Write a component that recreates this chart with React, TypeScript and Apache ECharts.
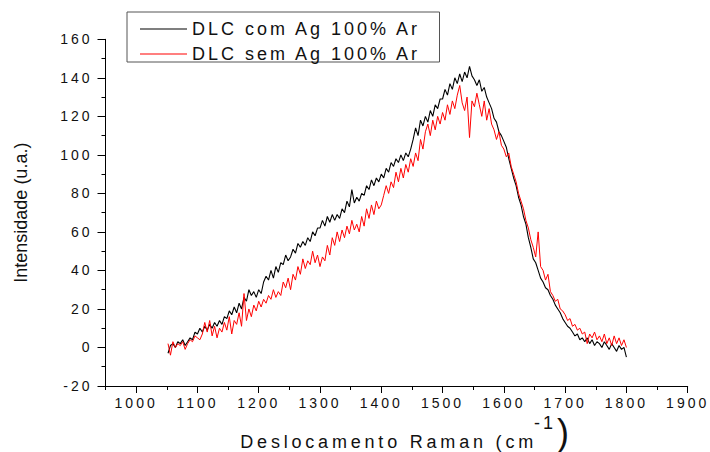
import React, { useEffect, useRef } from 'react';
import * as echarts from 'echarts';

const FONT = "'Liberation Sans', Arial, Helvetica, sans-serif";

// Raman shift sampling: start and step (cm-1)
const xStart = 1052;
const xStep = 4;

const seriesNames = ['DLC com Ag 100% Ar', 'DLC sem Ag 100% Ar'];

// DLC com Ag 100% Ar (black)
const comAg: number[] = [
  -3, 1, 2, 0, 3, 2, 4, 1, 3, 5,
  4, 8, 7, 10, 8, 11, 9, 12, 10, 13,
  11, 14, 12, 16, 15, 19, 17, 21, 18, 23,
  20, 26, 24, 30, 27, 29, 26, 30, 28, 34,
  37, 35, 40, 36, 42, 39, 44, 43, 48, 45,
  47, 51, 49, 54, 52, 55, 53, 57, 55, 60,
  58, 62, 62, 66, 63, 68, 65, 69, 66, 69,
  67, 72, 70, 76, 73, 82, 75, 78, 76, 80,
  79, 84, 82, 87, 84, 88, 86, 90, 88, 93,
  91, 96, 94, 98, 96, 100, 97, 101, 99, 103,
  108, 114, 110, 118, 115, 120, 117, 123, 120, 126,
  124, 129, 129, 134, 131, 137, 134, 140, 137, 142,
  138, 143, 140, 146, 141, 139, 136, 139, 133, 135,
  130, 127, 124, 119, 117, 112, 110, 107, 104, 98,
  93, 88, 84, 78, 74, 68, 64, 57, 52, 46,
  44, 40, 36, 34, 31, 30, 27, 25, 22, 20,
  18, 15, 13, 11, 10, 8, 6, 7, 4, 5,
  3, 5, 2, 4, 1, 3, 2, 0, 3, 1,
  -1, 2, 0, -2, 1, -1, 0, -5,
];

// DLC sem Ag 100% Ar (red)
const semAg: number[] = [
  2, -4, 3, 0, 2, 1, 3, -1, 2, 4,
  3, 6, 5, 4, 7, 13, 8, 14, 6, 11,
  5, 10, 8, 13, 9, 16, 7, 14, 12, 18,
  11, 28, 14, 20, 16, 22, 19, 24, 21, 25,
  23, 27, 25, 30, 26, 29, 27, 34, 31, 36,
  30, 38, 35, 42, 38, 46, 41, 45, 43, 50,
  44, 48, 42, 47, 45, 53, 48, 57, 53, 60,
  55, 61, 57, 63, 59, 66, 61, 64, 60, 68,
  63, 72, 67, 74, 69, 76, 72, 74, 79, 84,
  80, 86, 83, 91, 86, 93, 88, 95, 91, 98,
  94, 101, 97, 108, 103, 112, 116, 110, 118, 113,
  120, 116, 122, 118, 126, 121, 128, 124, 131, 136,
  127, 123, 130, 109, 128, 125, 132, 126, 120, 128,
  118, 124, 116, 113, 108, 112, 105, 103, 99, 101,
  94, 90, 86, 80, 76, 72, 66, 62, 56, 52,
  47, 60, 42, 40, 35, 38, 29, 27, 24, 25,
  20, 19, 17, 14, 15, 11, 12, 9, 10, 7,
  8, 2, 7, 5, 8, 4, 6, 3, 7, 2,
  5, 1, 6, 2, 5, 1, 4, 0,
];

const xMajorTicks = [1000, 1100, 1200, 1300, 1400, 1500, 1600, 1700, 1800, 1900];
const xMinorTicks = [950, 1050, 1150, 1250, 1350, 1450, 1550, 1650, 1750, 1850];

const toPairs = (vals: number[]) => vals.map((v, i) => [xStart + i * xStep, v]);

export default function App() {
  const ref = useRef<HTMLDivElement>(null);

  useEffect(() => {
    const el = ref.current!;
    const chart = echarts.init(el, undefined, { renderer: 'svg' });

    const option: any = {
      animation: false,
      backgroundColor: '#ffffff',
      textStyle: { fontFamily: FONT },
      grid: { left: 105.5, top: 39.3, width: 582.2, height: 346.7, outerBoundsMode: 'none' },
      legend: {
        orient: 'vertical',
        left: 140,
        top: 20,
        icon: 'rect',
        itemWidth: 47,
        itemHeight: 1,
        itemGap: 7,
        padding: 0,
        data: seriesNames,
        textStyle: { fontSize: 18, color: '#111', fontFamily: FONT },
      },
      xAxis: [
        {
          type: 'value',
          min: 950,
          max: 1900,
          axisLine: { show: true, onZero: false, lineStyle: { color: '#000', width: 1 } },
          axisTick: { show: true, length: 7, customValues: xMajorTicks, lineStyle: { color: '#000', width: 1 } },
          axisLabel: {
            customValues: xMajorTicks,
            formatter: (v: number) => String(v),
            fontSize: 14,
            color: '#111',
            margin: 10,
            fontFamily: FONT,
          },
          splitLine: { show: false },
        },
        {
          type: 'value',
          min: 950,
          max: 1900,
          position: 'bottom',
          axisLine: { show: false, onZero: false },
          axisTick: { show: true, length: 4, customValues: xMinorTicks, lineStyle: { color: '#000', width: 1 } },
          axisLabel: { show: false },
          splitLine: { show: false },
        },
      ],
      yAxis: {
        type: 'value',
        min: -20,
        max: 160,
        interval: 20,
        name: 'Intensidade (u.a.)',
        nameLocation: 'middle',
        nameGap: 76,
        nameTextStyle: { fontSize: 18, color: '#111', fontFamily: FONT },
        axisLine: { show: true, onZero: false, lineStyle: { color: '#000', width: 1 } },
        axisTick: { show: true, length: 8, lineStyle: { color: '#000', width: 1 } },
        minorTick: { show: true, splitNumber: 2, length: 4, lineStyle: { color: '#000', width: 1 } },
        axisLabel: { fontSize: 14, color: '#111', margin: 13, fontFamily: FONT },
        splitLine: { show: false },
        minorSplitLine: { show: false },
      },
      series: [
        {
          name: seriesNames[0],
          type: 'line',
          data: toPairs(comAg),
          symbol: 'none',
          silent: true,
          lineStyle: { color: '#000000', width: 1.1 },
          itemStyle: { color: '#000000' },
        },
        {
          name: seriesNames[1],
          type: 'line',
          data: toPairs(semAg),
          symbol: 'none',
          silent: true,
          lineStyle: { color: '#ff0000', width: 1 },
          itemStyle: { color: '#ff0000' },
        },
      ],
      graphic: [
        {
          type: 'rect',
          shape: { x: 127, y: 12, width: 312.5, height: 50 },
          style: { fill: 'none', stroke: '#555', lineWidth: 1 },
          silent: true,
        },
        {
          type: 'text',
          x: 240.3,
          y: 441.8,
          style: { text: 'Deslocamento Raman (cm', fill: '#111', font: `18px ${FONT}`, textAlign: 'left', textVerticalAlign: 'middle' },
        },
        {
          type: 'text',
          x: 534,
          y: 423.4,
          style: { text: '-1', fill: '#111', font: `18px ${FONT}`, textAlign: 'left', textVerticalAlign: 'middle' },
        },
        {
          type: 'text',
          x: 557,
          y: 432.5,
          style: { text: ')', fill: '#111', font: `36px ${FONT}`, textAlign: 'left', textVerticalAlign: 'middle' },
        },
      ],
    };

    chart.setOption(option);

    const applySpacing = () => {
      el.querySelectorAll('text').forEach((t) => {
        const s = t.textContent || '';
        if (s.indexOf('Intensidade') !== -1) return;
        if (s.indexOf('Deslocamento') !== -1) t.setAttribute('letter-spacing', '3.8');
        else t.setAttribute('letter-spacing', '3');
      });
    };
    applySpacing();
    chart.on('finished', applySpacing);
    const timer = setTimeout(applySpacing, 50);

    return () => {
      clearTimeout(timer);
      chart.dispose();
    };
  }, []);

  return (
    <div
      ref={ref}
      style={{ position: 'fixed', left: 0, top: 0, width: 710, height: 452, background: '#fff' }}
    />
  );
}
